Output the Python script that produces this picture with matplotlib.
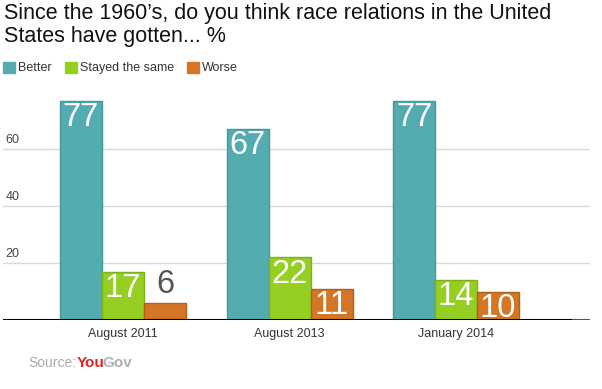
import numpy as np
import matplotlib.pyplot as plt
from matplotlib.transforms import blended_transform_factory, offset_copy
from matplotlib.patches import Rectangle

# data
periods = ['August 2011', 'August 2013', 'January 2014']
series = ['Better', 'Stayed the same', 'Worse']
better = [77, 67, 77]
same = [17, 22, 14]
worse = [6, 11, 10]
yticks = [20, 40, 60]

colors = ['#55acb0', '#94cf22', '#d47626']
edges = ['#3d9a9e', '#7bb219', '#b35f17']

plt.rcParams['font.family'] = ['Liberation Sans', 'DejaVu Sans']

W, H = 602, 389
fig = plt.figure(figsize=(W / 100, H / 100), dpi=100)

# axes placed in pixel terms
left, right, bottom, top = 3, 590, 320, 92
ax = fig.add_axes([left / W, (H - bottom) / H, (right - left) / W, (bottom - top) / H])

px_per_group = 166.5
x0 = 123
bar_w = 42 / px_per_group
x = np.arange(len(periods))

for k, vals in enumerate([better, same, worse]):
    xs = x + (k - 1) * bar_w
    ax.bar(xs, vals, width=bar_w, color=colors[k], edgecolor=edges[k],
           linewidth=1, zorder=3)
    for xi, v in zip(xs, vals):
        if v >= 8:
            t = offset_copy(ax.transData, fig=fig, x=0, y=-1, units='points')
            ax.text(xi, v, str(v), ha='center', va='top', color='white',
                    fontsize=23.5, transform=t, zorder=4)
        else:
            t = offset_copy(ax.transData, fig=fig, x=0, y=2, units='points')
            ax.text(xi, v, str(v), ha='center', va='bottom', color='#555555',
                    fontsize=23.5, transform=t, zorder=4)

ax.set_xlim((left - x0) / px_per_group, (right - x0) / px_per_group)
ax.set_ylim(0, (bottom - top) / 2.85)

for s in ax.spines.values():
    s.set_visible(False)
ax.set_yticks([])
ax.set_xticks(x)
ax.set_xticklabels(periods, fontsize=9, color='#333333')
ax.tick_params(axis='x', length=0, pad=6)

for v in yticks:
    ax.axhline(v, color='#d8d8d8', lw=1, zorder=1)
    tr = blended_transform_factory(ax.transAxes, ax.transData)
    tr = offset_copy(tr, fig=fig, x=2, y=2, units='points')
    ax.text(0, v, str(v), ha='left', va='bottom', fontsize=9, color='#444444',
            transform=tr)

ax.axhline(0, xmin=0, xmax=(573 - left) / (right - left), color='black', lw=1.5, zorder=5)
ax.axhline(0, xmin=(573 - left) / (right - left), xmax=1, color='#555555', lw=1.5, zorder=5)

# title
fig.text(4 / W, 1 - 3 / H, 'Since the 1960\u2019s, do you think race relations in the United\nStates have gotten... %',
         ha='left', va='top', fontsize=15.5, color='#111111', linespacing=1.1)

# legend
lx = [3, 65, 187]
for k, name in enumerate(series):
    fig.patches.append(Rectangle((lx[k] / W, (H - 73) / H), 12 / W, 11 / H,
                                 transform=fig.transFigure, color=colors[k]))
    fig.text((lx[k] + 15) / W, (H - 68) / H, name, ha='left', va='center',
             fontsize=9, color='#333333')

# source
fig.text(28 / W, (H - 363) / H, 'Source:', ha='left', va='center', fontsize=10,
         color='#aaaaaa')
fig.text(77 / W, (H - 363) / H, 'You', ha='left', va='center', fontsize=11,
         color='#e2231a', fontweight='bold')
fig.text(102.5 / W, (H - 363) / H, 'Gov', ha='left', va='center', fontsize=11,
         color='#b0b0b0', fontweight='bold')

fig.savefig('out.png', dpi=100)
